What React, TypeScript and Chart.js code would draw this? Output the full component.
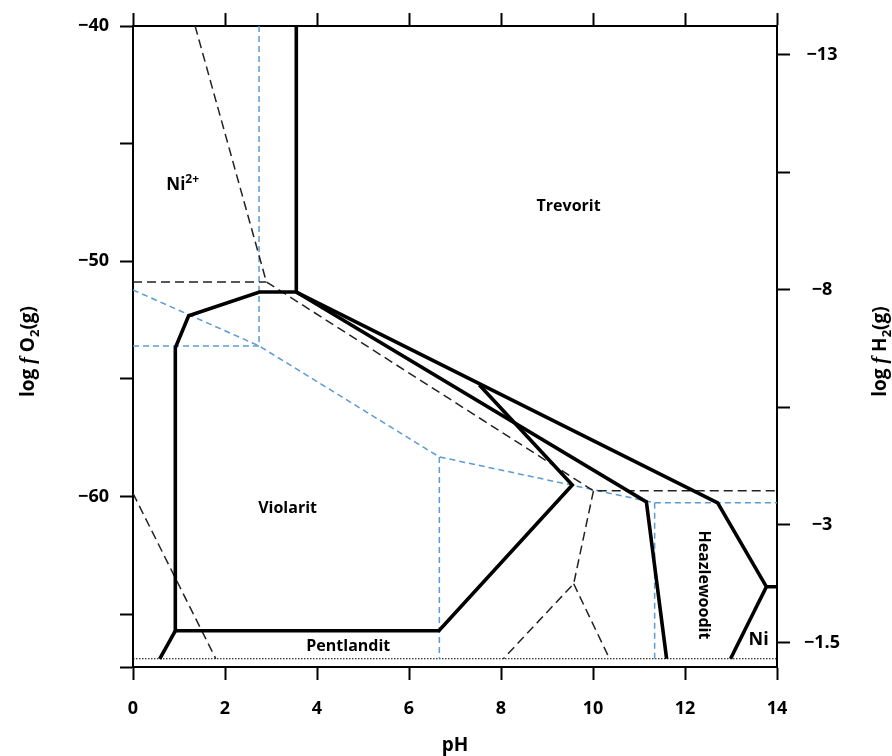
import React, { useEffect, useRef } from 'react';
import { Chart, registerables } from 'chart.js';
Chart.register(...registerables);

// ---------- axis data ----------
const phTicks = [0, 2, 4, 6, 8, 10, 12, 14];
const o2Min = -67.25;
const o2Max = -40;
const o2Ticks = [-40, -45, -50, -55, -60, -65, -67.25];
const h2Min = -13.61;
const h2Max = 0.02;
const h2Ticks = [-13, -10.5, -8, -5.5, -3, -0.5];
const h2Labels = ['\u221213', '', '\u22128', '', '\u22123', '\u22121.5'];

// ---------- thick phase boundaries (pH, log fO2) ----------
const trevoritVertical = [[3.55, -40], [3.55, -51.31]];
const violaritBoundary = [
  [3.55, -51.31], [2.75, -51.31], [1.21, -52.32], [0.92, -53.68], [0.92, -65.71],
  [6.65, -65.71], [9.55, -59.51], [7.53, -55.26],
];
const pentlanditLeft = [[0.92, -65.71], [0.58, -66.9]];
const upperBoundary = [[3.55, -51.31], [12.71, -60.27], [13.77, -63.84], [14, -63.84]];
const niBoundary = [[13.77, -63.84], [12.99, -66.9]];
const middleBoundary = [[3.55, -51.31], [11.16, -60.23], [11.6, -66.9]];

// ---------- black dashed lines ----------
const dashA = [[1.35, -40], [2.9, -50.88], [10.01, -59.76], [14, -59.76]];
const dashB = [[0, -50.88], [2.9, -50.88]];
const dashC = [[10.01, -59.76], [9.58, -63.71], [8.05, -66.9]];
const dashD = [[9.58, -63.71], [10.36, -66.9]];
const dashE = [[0, -59.87], [1.8, -66.9]];

// ---------- blue dashed lines ----------
const blueA = [[2.74, -40], [2.74, -53.6]];
const blueB = [[0, -53.6], [2.74, -53.6]];
const blueC = [[0, -51.22], [2.74, -53.6], [6.66, -58.32], [11.34, -60.27], [14, -60.27]];
const blueD = [[6.66, -58.32], [6.66, -66.9]];
const blueE = [[11.34, -60.27], [11.34, -66.9]];

// ---------- dotted line ----------
const dotted = [[0, -66.9], [14, -66.9]];

// ---------- region labels ----------
const regionNames = ['Trevorit', 'Violarit', 'Pentlandit', 'Heazlewoodit', 'Ni'];
const regionPH = [9.47, 3.36, 4.68, 12.42, 13.6];
const regionO2 = [-47.61, -60.44, -66.31, -63.76, -66.05];
const regionAngle = [0, 0, 0, Math.PI / 2, 0];
const regionSize = [16, 16, 16, 16, 18];
const ionPH = 1.08;
const ionO2 = -46.71;

const FONT = '"Open Sans"';
const pts = (a: number[][]) => a.map(([x, y]) => ({ x, y }));

const mk = (data: number[][], color: string, width: number, dash: number[]) => ({
  data: pts(data),
  borderColor: color,
  backgroundColor: color,
  borderWidth: width,
  borderDash: dash,
  showLine: true,
  pointRadius: 0,
  pointHoverRadius: 0,
  fill: false,
  tension: 0,
  borderJoinStyle: 'miter' as const,
  borderCapStyle: 'butt' as const,
  xAxisID: 'x',
  yAxisID: 'y',
});

type Seg = { t: string; f: string; dy?: number };
function drawRich(ctx: CanvasRenderingContext2D, segs: Seg[], cx: number, cy: number, angle: number, base: number) {
  ctx.save();
  ctx.translate(cx, cy);
  ctx.rotate(angle);
  let total = 0;
  segs.forEach((s) => {
    ctx.font = s.f;
    total += ctx.measureText(s.t).width;
  });
  let x = -total / 2;
  ctx.textAlign = 'left';
  ctx.textBaseline = 'alphabetic';
  ctx.fillStyle = '#000';
  segs.forEach((s) => {
    ctx.font = s.f;
    ctx.fillText(s.t, x, base + (s.dy || 0));
    x += ctx.measureText(s.t).width;
  });
  ctx.restore();
}

const textPlugin = {
  id: 'textPlugin',
  afterDraw(chart: any) {
    const ctx: CanvasRenderingContext2D = chart.ctx;
    const xs = chart.scales.x;
    const ys = chart.scales.y;
    const ca = chart.chartArea;
    regionNames.forEach((name, i) => {
      const sz = regionSize[i];
      drawRich(ctx, [{ t: name, f: `bold ${sz}px ${FONT}` }],
        xs.getPixelForValue(regionPH[i]), ys.getPixelForValue(regionO2[i]), regionAngle[i], sz * 0.36);
    });
    drawRich(ctx, [
      { t: 'Ni', f: `bold 17px ${FONT}` },
      { t: '2+', f: `bold 12px ${FONT}`, dy: -7 },
    ], xs.getPixelForValue(ionPH), ys.getPixelForValue(ionO2), 0, 6);

    const tf = `bold 19px ${FONT}`;
    const ff = 'italic bold 20px "Liberation Serif"';
    const sf = `bold 13px ${FONT}`;
    drawRich(ctx, [{ t: 'pH', f: tf }], (ca.left + ca.right) / 2, ca.bottom + 77, 0, 7);
    const midY = (ca.top + ca.bottom) / 2 + 5;
    drawRich(ctx, [
      { t: 'log ', f: tf }, { t: 'f', f: ff }, { t: ' O', f: tf }, { t: '2', f: sf, dy: 5 }, { t: '(g)', f: tf },
    ], ca.left - 106, midY, -Math.PI / 2, 7);
    drawRich(ctx, [
      { t: 'log ', f: tf }, { t: 'f', f: ff }, { t: ' H', f: tf }, { t: '2', f: sf, dy: 5 }, { t: '(g)', f: tf },
    ], ca.right + 102, midY, -Math.PI / 2, 7);
  },
};

const gridOpts = {
  drawOnChartArea: false,
  drawTicks: true,
  tickLength: 13,
  tickWidth: 2,
  tickColor: '#000',
};
const borderOpts = { display: true, color: '#000', width: 2 };
const tickFont = { family: FONT, size: 18, weight: 'bold' as const };
const minus = (v: number) => (v < 0 ? '\u2212' + Math.abs(v) : String(v));

export default function App() {
  const ref = useRef<HTMLCanvasElement>(null);
  useEffect(() => {
    const black = '#000';
    const dk = '#222';
    const blue = '#5B9BD5';
    const chart = new Chart(ref.current as HTMLCanvasElement, {
      type: 'scatter',
      data: {
        datasets: [
          mk(trevoritVertical, black, 3.6, []),
          mk(violaritBoundary, black, 3.6, []),
          mk(pentlanditLeft, black, 3.6, []),
          mk(upperBoundary, black, 3.6, []),
          mk(niBoundary, black, 3.6, []),
          mk(middleBoundary, black, 3.6, []),
          mk(dashA, dk, 1.5, [9, 5]),
          mk(dashB, dk, 1.5, [9, 5]),
          mk(dashC, dk, 1.5, [9, 5]),
          mk(dashD, dk, 1.5, [9, 5]),
          mk(dashE, dk, 1.5, [9, 5]),
          mk(blueA, blue, 1.5, [6, 4]),
          mk(blueB, blue, 1.5, [6, 4]),
          mk(blueC, blue, 1.5, [6, 4]),
          mk(blueD, blue, 1.5, [6, 4]),
          mk(blueE, blue, 1.5, [6, 4]),
          mk(dotted, black, 1.2, [1.5, 1.5]),
        ] as any,
      },
      options: {
        responsive: false,
        animation: false,
        layout: { padding: 0 },
        plugins: { legend: { display: false }, tooltip: { enabled: false } },
        scales: {
          x: {
            type: 'linear', position: 'bottom', min: 0, max: 14,
            afterBuildTicks: (s: any) => { s.ticks = phTicks.map((v) => ({ value: v })); },
            afterFit: (s: any) => { s.height = 89; },
            ticks: { font: tickFont, color: '#000', padding: 18, maxRotation: 0, callback: (v: any) => String(v) },
            grid: gridOpts, border: borderOpts,
          },
          x2: {
            type: 'linear', position: 'top', min: 0, max: 14,
            afterBuildTicks: (s: any) => { s.ticks = phTicks.map((v) => ({ value: v })); },
            afterFit: (s: any) => { s.height = 26; },
            ticks: { display: false },
            grid: gridOpts, border: borderOpts,
          },
          y: {
            type: 'linear', position: 'left', min: o2Min, max: o2Max,
            afterBuildTicks: (s: any) => { s.ticks = o2Ticks.map((v) => ({ value: v })); },
            afterFit: (s: any) => { s.width = 133; },
            ticks: {
              font: tickFont, color: '#000', padding: 11,
              callback: (v: any) => (Number(v) % 10 === 0 ? minus(Number(v)) : ''),
            },
            grid: gridOpts, border: borderOpts,
          },
          y2: {
            type: 'linear', position: 'right', reverse: true, min: h2Min, max: h2Max,
            afterBuildTicks: (s: any) => { s.ticks = h2Ticks.map((v) => ({ value: v })); },
            afterFit: (s: any) => { s.width = 115; },
            ticks: {
              font: tickFont, color: '#000', padding: 14, crossAlign: 'center',
              callback: (_v: any, i: number) => h2Labels[i],
            },
            grid: gridOpts, border: borderOpts,
          },
        },
      } as any,
      plugins: [textPlugin],
    });
    return () => chart.destroy();
  }, []);
  return (
    <div style={{ position: 'absolute', left: 0, top: 0, width: 892, height: 756, background: '#fff' }}>
      <canvas ref={ref} width={892} height={756} style={{ display: 'block' }} />
    </div>
  );
}
